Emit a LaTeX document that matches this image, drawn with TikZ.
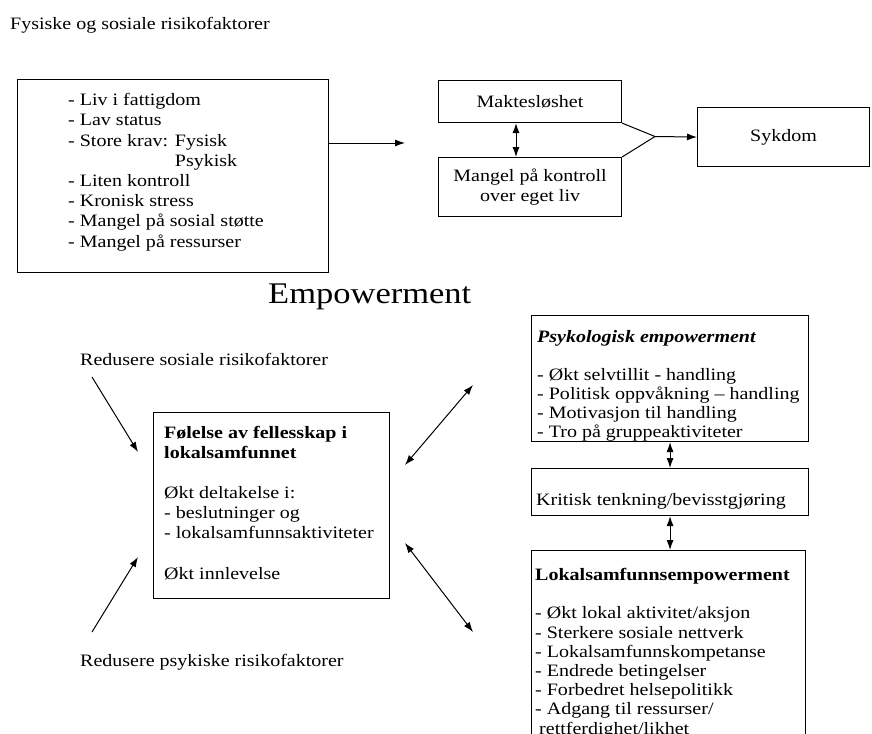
\documentclass[tikz,border=0pt]{standalone}
\usepackage{fontspec}
\setmainfont{Liberation Serif}[FakeStretch=1.15]
\usetikzlibrary{arrows.meta}
\begin{document}
\begin{tikzpicture}[x=1pt,y=-1pt,
  box/.style={draw,line width=1.1pt,inner sep=0pt,anchor=north west},
  txt/.style={inner sep=0pt,anchor=base west,align=left,font=\fontsize{17.4}{20.2}\selectfont},
  ctxt/.style={font=\fontsize{17.4}{20.2}\selectfont,align=center},
  arr/.style={line width=1pt,-{Latex[length=10pt,width=7pt]}},
  darr/.style={line width=1pt,{Latex[length=10pt,width=7pt]}-{Latex[length=10pt,width=7pt]}}]
\fill[white] (0,0) rectangle (872,733);
\useasboundingbox (0,0) rectangle (872,733);
\clip (0,0) rectangle (872,733);

% upper part (multi-line text nodes are placed by the baseline of their last line)
\node[txt] (title) at (10,30) {Fysiske og sosiale risikofaktorer};
\node[box,minimum width=311pt,minimum height=193pt] (risk) at (17,79) {};
\node[txt] (risklist) at (68,247) {- Liv i fattigdom\\- Lav status\\- Store krav: Fysisk\\\phantom{- Store krav: }Psykisk\\- Liten kontroll\\- Kronisk stress\\- Mangel på sosial støtte\\- Mangel på ressurser};

\node[box,ctxt,minimum width=183pt,minimum height=42pt] (makt) at (438,80) {Maktesløshet};
\node[box,ctxt,minimum width=183pt,minimum height=59pt] (mangel) at (438,157) {Mangel på kontroll\\over eget liv};
\node[box,ctxt,minimum width=172pt,minimum height=59pt] (syk) at (697,107) {Sykdom};

\coordinate (a1) at (405,143);
\draw[arr] (risk.east |- a1) -- (a1);
\coordinate (dx) at (516,140);
\draw[darr] (makt.south -| dx) -- (mangel.north -| dx);
\coordinate (m) at (655,136.5);
\draw[line width=1pt] (makt.south east) -- (m) -- (mangel.north east);
\draw[arr] (m) -- (syk.west);

% lower part
\node[inner sep=0pt,anchor=base west,font=\fontsize{30}{34}\selectfont] (emp) at (268,303) {Empowerment};
\node[txt] (redsos) at (80,365) {Redusere sosiale risikofaktorer};
\node[txt] (redpsy) at (80,666) {Redusere psykiske risikofaktorer};

\node[box,minimum width=236pt,minimum height=186pt] (fell) at (153,412) {};
\node[txt] (felltxt) at (164,579) {\textbf{Følelse av fellesskap i}\\\textbf{lokalsamfunnet}\\[20pt]Økt deltakelse i:\\- beslutninger og\\- lokalsamfunnsaktiviteter\\[20pt]Økt innlevelse};

\coordinate (s1) at (92,377); \coordinate (e1) at (138,452);
\draw[arr] (s1) -- (e1);
\coordinate (s2) at (92,632); \coordinate (e2) at (138,557);
\draw[arr] (s2) -- (e2);

\node[box,minimum width=277pt,minimum height=126pt] (psyk) at (531,315) {};
\node[txt,font=\fontsize{17.4}{18.9}\selectfont] (psyktxt) at (537,437) {\textbf{\textit{Psykologisk empowerment}}\\[19pt]- Økt selvtillit - handling\\- Politisk oppvåkning – handling\\- Motivasjon til handling\\- Tro på gruppeaktiviteter};

\node[box,minimum width=277pt,minimum height=47pt] (krit) at (531,468) {};
\node[txt] (krittxt) at (536,505) {Kritisk tenkning/bevisstgjøring};

\node[box,minimum width=274pt,minimum height=200pt] (lok) at (531,550) {};
\node[txt,font=\fontsize{17.4}{19.2}\selectfont] (loktxt) at (535,734) {\textbf{Lokalsamfunnsempowerment}\\[19pt]- Økt lokal aktivitet/aksjon\\- Sterkere sosiale nettverk\\- Lokalsamfunnskompetanse\\- Endrede betingelser\\- Forbedret helsepolitikk\\- Adgang til ressurser/\\\hspace*{4pt}rettferdighet/likhet};

\draw[darr] (psyk.south) -- (krit.north);
\draw[darr] (krit.south) -- (lok.north -| krit.south);

\coordinate (u1) at (405,465); \coordinate (u2) at (473,385);
\draw[darr] (u1) -- (u2);
\coordinate (l1) at (405,543); \coordinate (l2) at (473,632);
\draw[darr] (l1) -- (l2);
\end{tikzpicture}
\end{document}
